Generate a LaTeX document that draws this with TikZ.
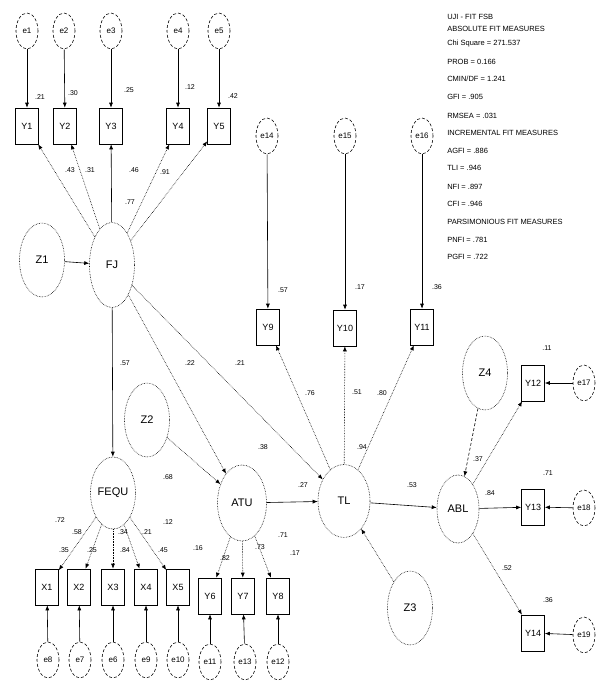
\documentclass[tikz,border=0pt]{standalone}
\usepackage{fontspec}
\setmainfont{Liberation Sans}
\usetikzlibrary{shapes.geometric,arrows.meta}
\begin{document}
\begin{tikzpicture}[x=1pt,y=-1pt,line width=0.6pt,
 lat/.style={draw,densely dotted,ellipse,minimum width=45pt,minimum height=74pt,inner sep=0pt,font=\fontsize{11}{13}\selectfont},
 err/.style={draw,densely dashed,ellipse,minimum width=22pt,minimum height=36pt,inner sep=0pt,font=\fontsize{8}{10}\selectfont},
 obs/.style={draw,rectangle,minimum width=23pt,minimum height=36pt,inner sep=0pt,font=\fontsize{9}{11}\selectfont},
 lab/.style={font=\fontsize{7}{8}\selectfont,inner sep=0pt},
 fitline/.style={font=\fontsize{7.5}{9}\selectfont,anchor=west,inner sep=0pt},
 dpath/.style={densely dotted,-{Latex[length=5pt,width=4pt]}},
 spath/.style={-{Latex[length=5pt,width=4pt]}},
 hpath/.style={densely dashed,-{Latex[length=5pt,width=4pt]}}]
\useasboundingbox (0,0) rectangle (608,688);
% top errors and indicators
\node[err] (e1) at (27,31) {e1};
\node[err] (e2) at (64,31) {e2};
\node[err] (e3) at (111,31) {e3};
\node[err] (e4) at (178,31) {e4};
\node[err] (e5) at (219,31) {e5};
\node[obs] (Y1) at (27,126) {Y1};
\node[obs] (Y2) at (65,126) {Y2};
\node[obs] (Y3) at (111,126) {Y3};
\node[obs] (Y4) at (178,126) {Y4};
\node[obs] (Y5) at (219,126) {Y5};
% latents
\node[lat] (Z1) at (42,260) {Z1};
\node[lat,minimum height=85pt] (FJ) at (112,265) {FJ};
\node[lat] (Z2) at (147,420) {Z2};
\node[lat,minimum height=72pt] (FEQU) at (113,493) {FEQU};
\node[lat,minimum width=49pt,minimum height=76pt] (ATU) at (242,503) {ATU};
\node[lat,minimum width=52pt,minimum height=73pt] (TL) at (344,501) {TL};
\node[lat,minimum width=42pt,minimum height=68pt] (ABL) at (458,509) {ABL};
\node[lat] (Z4) at (485,373) {Z4};
\node[lat] (Z3) at (410,608) {Z3};
% TL indicators
\node[err] (e14) at (267,136) {e14};
\node[err] (e15) at (345,136) {e15};
\node[err] (e16) at (422,136) {e16};
\node[obs] (Y9) at (268,327) {Y9};
\node[obs] (Y10) at (345,328) {Y10};
\node[obs] (Y11) at (422,327) {Y11};
% ABL indicators
\node[obs] (Y12) at (533,383) {Y12};
\node[obs] (Y13) at (533,507) {Y13};
\node[obs] (Y14) at (533,633) {Y14};
\node[err] (e17) at (584,383) {e17};
\node[err] (e18) at (584,508) {e18};
\node[err] (e19) at (584,635) {e19};
% bottom indicators
\node[obs] (X1) at (47,587) {X1};
\node[obs] (X2) at (79,587) {X2};
\node[obs] (X3) at (113,587) {X3};
\node[obs] (X4) at (146,587) {X4};
\node[obs] (X5) at (178,587) {X5};
\node[obs] (Y6) at (210,596) {Y6};
\node[obs] (Y7) at (243,596) {Y7};
\node[obs] (Y8) at (278,596) {Y8};
\node[err] (e8) at (48,660) {e8};
\node[err] (e7) at (80,660) {e7};
\node[err] (e6) at (113,660) {e6};
\node[err] (e9) at (146,660) {e9};
\node[err] (e10) at (178,660) {e10};
\node[err] (e11) at (210,662) {e11};
\node[err] (e13) at (245,662) {e13};
\node[err] (e12) at (278,662) {e12};
% connectors
\foreach \a/\b in {e1/Y1,e2/Y2,e3/Y3,e4/Y4,e5/Y5,e14/Y9,e15/Y10,e16/Y11,e17/Y12,e18/Y13,e19/Y14,e8/X1,e7/X2,e6/X3,e9/X4,e10/X5,e11/Y6,e13/Y7,e12/Y8}
  \draw[spath] (\a) -- (\b);
\foreach \b in {Y1,Y2,Y4,Y5} \draw[dpath] (FJ) -- (\b);
\draw[spath] (FJ) -- (Y3);
\draw[spath] (Z1) -- (FJ);
\draw[spath] (FJ) -- (FEQU);
\draw[dpath] (FJ) -- (ATU);
\draw[dpath] (FJ) -- (TL);
\draw[dpath] (Z2) -- (ATU);
\draw[spath] (ATU) -- (TL);
\foreach \b in {Y9,Y10,Y11} \draw[dpath] (TL) -- (\b);
\draw[dpath] (Z3) -- (TL);
\draw[spath] (TL) -- (ABL);
\draw[hpath] (Z4) -- (ABL);
\draw[dpath] (ABL) -- (Y12);
\draw[spath] (ABL) -- (Y13);
\draw[dpath] (ABL) -- (Y14);
\foreach \b in {X1,X2,X3,X4,X5} \draw[dpath] (FEQU) -- (\b);
\foreach \b in {Y6,Y7,Y8} \draw[dpath] (ATU) -- (\b);
% labels
\node[lab] (l1) at (40,97) {.21};
\node[lab] (l2) at (73,93) {.30};
\node[lab] (l3) at (129,90) {.25};
\node[lab] (l4) at (190,87) {.12};
\node[lab] (l5) at (233,96) {.42};
\node[lab] (l6) at (70,170) {.43};
\node[lab] (l7) at (90,170) {.31};
\node[lab] (l8) at (134,170) {.46};
\node[lab] (l9) at (165,172) {.91};
\node[lab] (l10) at (130,202) {.77};
\node[lab] (l11) at (125,363) {.57};
\node[lab] (l12) at (190,363) {.22};
\node[lab] (l13) at (240,363) {.21};
\node[lab] (l14) at (263,447) {.38};
\node[lab] (l15) at (168,477) {.68};
\node[lab] (l16) at (303,485) {.27};
\node[lab] (l17) at (283,290) {.57};
\node[lab] (l18) at (360,287) {.17};
\node[lab] (l19) at (437,287) {.36};
\node[lab] (l20) at (310,393) {.76};
\node[lab] (l21) at (357,392) {.51};
\node[lab] (l22) at (382,393) {.80};
\node[lab] (l23) at (362,447) {.94};
\node[lab] (l24) at (412,485) {.53};
\node[lab] (l25) at (478,459) {.37};
\node[lab] (l26) at (547,348) {.11};
\node[lab] (l27) at (490,493) {.84};
\node[lab] (l28) at (548,473) {.71};
\node[lab] (l29) at (507,568) {.52};
\node[lab] (l30) at (548,600) {.36};
\node[lab] (l31) at (60,520) {.72};
\node[lab] (l32) at (64,550) {.35};
\node[lab] (l33) at (77,532) {.58};
\node[lab] (l34) at (92,550) {.25};
\node[lab] (l35) at (123,532) {.34};
\node[lab] (l36) at (125,550) {.84};
\node[lab] (l37) at (147,532) {.21};
\node[lab] (l38) at (163,550) {.45};
\node[lab] (l39) at (168,522) {.12};
\node[lab] (l40) at (198,548) {.16};
\node[lab] (l41) at (225,558) {.82};
\node[lab] (l42) at (260,547) {.73};
\node[lab] (l43) at (283,535) {.71};
\node[lab] (l44) at (295,553) {.17};
% fit indices
\node[fitline] (f1) at (447,17) {UJI - FIT FSB};
\node[fitline] (f2) at (447,29) {ABSOLUTE FIT MEASURES};
\node[fitline] (f3) at (447,44) {Chi Square = 271.537};
\node[fitline] (f4) at (447,62) {PROB = 0.166};
\node[fitline] (f5) at (447,79) {CMIN/DF = 1.241};
\node[fitline] (f6) at (447,97) {GFI = .905};
\node[fitline] (f7) at (447,116) {RMSEA = .031};
\node[fitline] (f8) at (447,133) {INCREMENTAL FIT MEASURES};
\node[fitline] (f9) at (447,151) {AGFI = .886};
\node[fitline] (f10) at (447,168) {TLI = .946};
\node[fitline] (f11) at (447,187) {NFI = .897};
\node[fitline] (f12) at (447,204) {CFI = .946};
\node[fitline] (f13) at (447,222) {PARSIMONIOUS FIT MEASURES};
\node[fitline] (f14) at (447,240) {PNFI = .781};
\node[fitline] (f15) at (447,257) {PGFI = .722};
\end{tikzpicture}
\end{document}
